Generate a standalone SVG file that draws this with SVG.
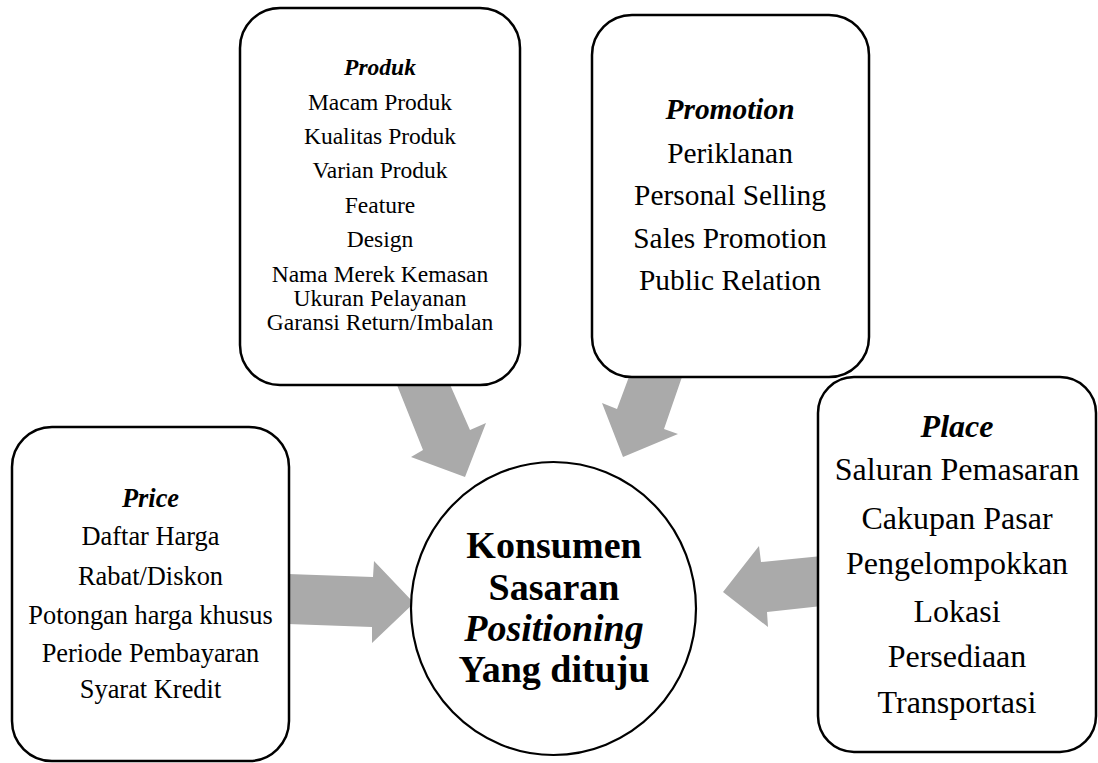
<svg xmlns="http://www.w3.org/2000/svg" width="1098" height="763" viewBox="0 0 1098 763">
<style>
.box{fill:#fff;stroke:#000;stroke-width:2.5}
.arr{fill:#aaaaaa;stroke:none}
text{font-family:"Liberation Serif","Times New Roman",serif;fill:#000;text-anchor:middle}
.t{font-weight:bold;font-style:italic}
</style>
<rect width="1098" height="763" fill="#fff"/>
<g id="connectors">
<polygon class="arr" points="395,380 448,380 470,430 486,423 465,477 411,457 423,450"/>
<polygon class="arr" points="630,374 683,374 664,429 678,434 623,457 602,403 617,409"/>
<polygon class="arr" points="288,574 373,577 374,561 414,603 372,643 372,627 288,624"/>
<polygon class="arr" points="822,556 761,562 759,546 723,592 768,627 767,612 822,606"/>
</g>
<g id="produk">
<rect class="box" x="240" y="8" width="280" height="377" rx="40"/>
<g font-size="23.5">
<text class="t" x="380" y="75">Produk</text>
<text x="380" y="110">Macam Produk</text>
<text x="380" y="144">Kualitas Produk</text>
<text x="380" y="178">Varian Produk</text>
<text x="380" y="213">Feature</text>
<text x="380" y="247">Design</text>
<text x="380" y="282">Nama Merek Kemasan</text>
<text x="380" y="306">Ukuran Pelayanan</text>
<text x="380" y="330">Garansi Return/Imbalan</text>
</g>
</g>
<g id="promotion">
<rect class="box" x="592" y="15" width="277" height="362" rx="40"/>
<g font-size="29.4">
<text class="t" x="730" y="119">Promotion</text>
<text x="730" y="163">Periklanan</text>
<text x="730" y="205">Personal Selling</text>
<text x="730" y="248">Sales Promotion</text>
<text x="730" y="290">Public Relation</text>
</g>
</g>
<g id="price">
<rect class="box" x="12" y="427" width="277" height="334" rx="40"/>
<g font-size="26.4">
<text class="t" x="150.5" y="507">Price</text>
<text x="150.5" y="545">Daftar Harga</text>
<text x="150.5" y="585">Rabat/Diskon</text>
<text x="150.5" y="624">Potongan harga khusus</text>
<text x="150.5" y="662">Periode Pembayaran</text>
<text x="150.5" y="698">Syarat Kredit</text>
</g>
</g>
<g id="place">
<rect class="box" x="818" y="377" width="278" height="375" rx="36"/>
<g font-size="32">
<text class="t" x="957" y="437">Place</text>
<text x="957" y="480">Saluran Pemasaran</text>
<text x="957" y="529">Cakupan Pasar</text>
<text x="957" y="574">Pengelompokkan</text>
<text x="957" y="622">Lokasi</text>
<text x="957" y="667">Persediaan</text>
<text x="957" y="713">Transportasi</text>
</g>
</g>
<g id="konsumen">
<ellipse cx="553.5" cy="608.5" rx="142.5" ry="146.5" fill="#fff" stroke="#000" stroke-width="2.2"/>
<g font-size="38" font-weight="bold">
<text x="554" y="558">Konsumen</text>
<text x="554" y="600">Sasaran</text>
<text x="554" y="641" font-style="italic">Positioning</text>
<text x="554" y="682">Yang dituju</text>
</g>
</g>
</svg>
